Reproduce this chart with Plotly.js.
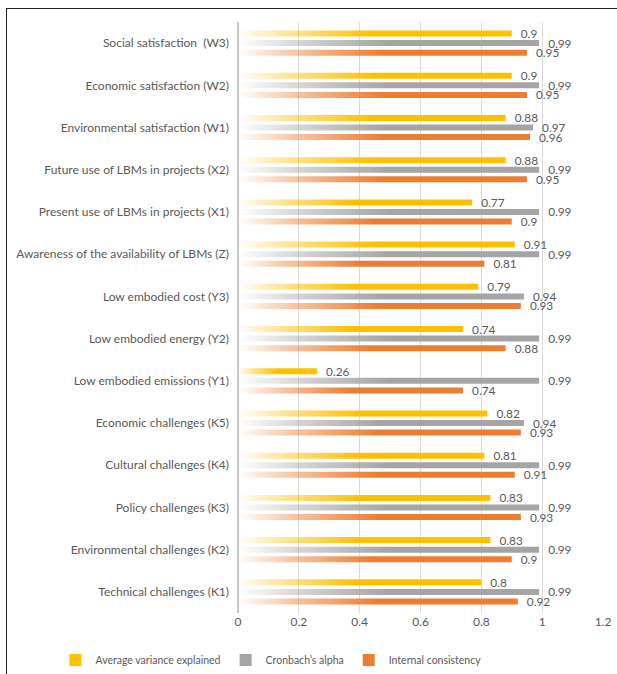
<!DOCTYPE html>
<html>
<head>
<meta charset="utf-8">
<script src="https://cdn.plot.ly/plotly-3.0.1.min.js"></script>
<style>
  html, body { margin: 0; padding: 0; background: #fff; }
  #wrap { position: relative; width: 617px; height: 674px; }
  #chart { position: absolute; left: 0; top: 0; width: 617px; height: 674px; }
  #frame { position: absolute; left: 6px; top: 8px; right: 0; bottom: 0;
           border-top: 1.5px solid #222; border-left: 1.5px solid #222; pointer-events: none; }
</style>
</head>
<body>
<div id="wrap"><div id="chart"></div><div id="frame"></div></div>
<script>
const categories = [
  "Social satisfaction  (W3)",
  "Economic satisfaction (W2)",
  "Environmental satisfaction (W1)",
  "Future use of LBMs in projects (X2)",
  "Present use of LBMs in projects (X1)",
  "Awareness of the availability of LBMs (Z)",
  "Low embodied cost (Y3)",
  "Low embodied energy (Y2)",
  "Low embodied emissions (Y1)",
  "Economic challenges (K5)",
  "Cultural challenges (K4)",
  "Policy challenges (K3)",
  "Environmental challenges (K2)",
  "Technical challenges (K1)"
];
const averageVarianceExplained = [0.9, 0.9, 0.88, 0.88, 0.77, 0.91, 0.79, 0.74, 0.26, 0.82, 0.81, 0.83, 0.83, 0.8];
const cronbachsAlpha          = [0.99, 0.99, 0.97, 0.99, 0.99, 0.99, 0.94, 0.99, 0.99, 0.94, 0.99, 0.99, 0.99, 0.99];
const internalConsistency     = [0.95, 0.95, 0.96, 0.95, 0.9, 0.81, 0.93, 0.88, 0.74, 0.93, 0.91, 0.93, 0.9, 0.92];
const seriesNames = ["Average variance explained", "Cronbach\u2019s alpha", "Internal consistency"];
const seriesColors = ["#FFC000", "#A5A5A5", "#ED7D31"];
const xTickVals = [0, 0.2, 0.4, 0.6, 0.8, 1, 1.2];
const xTickText = ["0", "0.2", "0.4", "0.6", "0.8", "1", "1.2"];

const FONT = "Lato, 'Open Sans', sans-serif";
const TXT = "#595959";

const seriesValues = [averageVarianceExplained, cronbachsAlpha, internalConsistency];
const traces = seriesValues.map((vals, i) => ({
  type: "bar",
  orientation: "h",
  name: seriesNames[i],
  y: categories,
  x: vals,
  marker: { color: seriesColors[i] },
  text: vals.map(v => String(v)),
  textposition: "outside",
  constraintext: "none",
  cliponaxis: false,
  textfont: { family: FONT, size: 11.8, color: TXT },
  hoverinfo: "none"
}));

const layout = {
  width: 617, height: 674,
  margin: { l: 238, r: 14, t: 22, b: 61, autoexpand: false },
  paper_bgcolor: "rgba(0,0,0,0)",
  plot_bgcolor: "#fff",
  barmode: "group",
  bargap: 0.32,
  bargroupgap: 0.37,
  font: { family: FONT, size: 12, color: TXT },
  xaxis: {
    range: [0, 1.2],
    tickvals: xTickVals, ticktext: xTickText,
    showgrid: true, gridcolor: "#d9d9d9", gridwidth: 1,
    zeroline: true, zerolinecolor: "#c8c8c8", zerolinewidth: 2,
    showline: false, ticks: "",
    tickfont: { family: FONT, size: 12, color: TXT },
    fixedrange: true
  },
  yaxis: {
    type: "category",
    autorange: "reversed",
    showgrid: false, zeroline: false, showline: false,
    ticks: "", ticklabelstandoff: 8,
    tickfont: { family: FONT, size: 12, color: TXT },
    fixedrange: true
  },
  showlegend: true,
  legend: {
    orientation: "h",
    x: -0.5, xanchor: "left",
    y: -0.0795, yanchor: "middle",
    font: { family: FONT, size: 10.5, color: TXT },
    itemwidth: 30,
    traceorder: "normal"
  }
};

Plotly.newPlot("chart", traces, layout, { staticPlot: true, displayModeBar: false }).then(gd => {
  const svgNS = "http://www.w3.org/2000/svg";
  const svg = gd.querySelector("svg.main-svg");
  let defs = svg.querySelector("defs");
  if (!defs) { defs = document.createElementNS(svgNS, "defs"); svg.insertBefore(defs, svg.firstChild); }
  seriesColors.forEach((c, i) => {
    const g = document.createElementNS(svgNS, "linearGradient");
    g.setAttribute("id", "fadegrad" + i);
    g.setAttribute("x1", "0"); g.setAttribute("y1", "0");
    g.setAttribute("x2", "1"); g.setAttribute("y2", "0");
    [[0, 0.0], [0.2, 0.45], [0.5, 1]].forEach(([off, op]) => {
      const s = document.createElementNS(svgNS, "stop");
      s.setAttribute("offset", off);
      s.setAttribute("stop-color", c);
      s.setAttribute("stop-opacity", op);
      g.appendChild(s);
    });
    defs.appendChild(g);
  });
  const barTraces = gd.querySelectorAll("g.barlayer g.trace.bars");
  barTraces.forEach((t, i) => {
    t.querySelectorAll("g.point path").forEach(p => {
      p.style.fill = "url(#fadegrad" + i + ")";
    });
    t.querySelectorAll("g.point text").forEach(tx => {
      tx.setAttribute("transform", "translate(6,0) " + (tx.getAttribute("transform") || ""));
    });
  });
});
</script>
</body>
</html>
